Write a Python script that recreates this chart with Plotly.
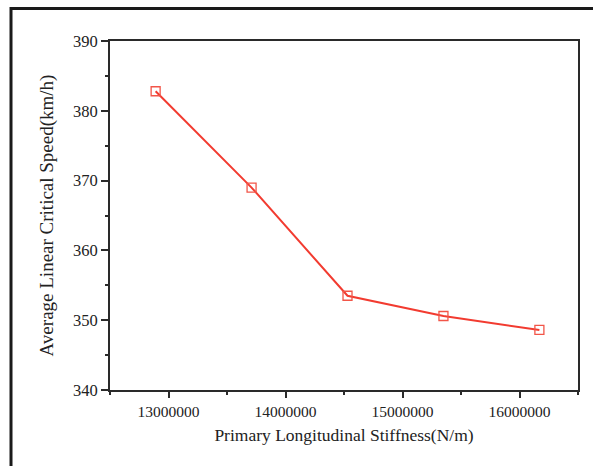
import plotly.graph_objects as go

stiffness = [12890000, 13710000, 14530000, 15350000, 16170000]
speed = [382.8, 369.0, 353.5, 350.6, 348.6]
x_ticks = [13000000, 14000000, 15000000, 16000000]
y_ticks = [340, 350, 360, 370, 380, 390]

W, H = 593, 466
ml, mr, mt, mb = 110, 15, 41, 76
pw, ph = W - ml - mr, H - mt - mb

def px_x(p):
    return (p - ml) / pw

def px_y(p):
    return (H - mb - p) / ph

fig = go.Figure()
fig.add_trace(go.Scatter(
    x=stiffness, y=speed, mode="lines+markers",
    line=dict(color="#f23b30", width=2),
    marker=dict(symbol="square-open", size=9, color="#f25548", line=dict(width=1.3)),
    showlegend=False,
))

font = "Liberation Serif, Times New Roman, serif"
axis_common = dict(
    showline=True, linecolor="#2a2a2a", linewidth=2, mirror=True,
    ticks="outside", ticklen=7, tickwidth=1.5, tickcolor="#2a2a2a",
    showgrid=False, zeroline=False,
    minor=dict(ticks="outside", ticklen=3, tickwidth=1.5, tickcolor="#2a2a2a"),
)

fig.update_layout(
    width=W, height=H,
    margin=dict(l=ml, r=mr, t=mt, b=mb),
    paper_bgcolor="white", plot_bgcolor="white",
    xaxis=dict(range=[12500000, 16500000], tickvals=x_ticks,
               ticktext=[str(v) for v in x_ticks],
               tickfont=dict(family=font, size=15.5, color="#222"),
               title=dict(text="Primary Longitudinal Stiffness(N/m)",
                          font=dict(family=font, size=17.5, color="#222"), standoff=10),
               **{**axis_common, "ticklen": 6,
                  "minor": dict(axis_common["minor"], dtick=500000, tick0=12500000)}),
    yaxis=dict(range=[340, 390], tickvals=y_ticks,
               tickfont=dict(family=font, size=16.5, color="#222"),
               title=dict(text="Average Linear Critical Speed(km/h)",
                          font=dict(family=font, size=19, color="#222"), standoff=14),
               **{**axis_common, "minor": dict(axis_common["minor"], dtick=5, tick0=340)}),
    shapes=[dict(type="rect", xref="paper", yref="paper",
                 x0=px_x(11), x1=px_x(600), y0=px_y(470), y1=px_y(8.5),
                 line=dict(color="#1a1a1a", width=3), fillcolor="rgba(0,0,0,0)", layer="below")],
)

fig.write_html("out.html")
